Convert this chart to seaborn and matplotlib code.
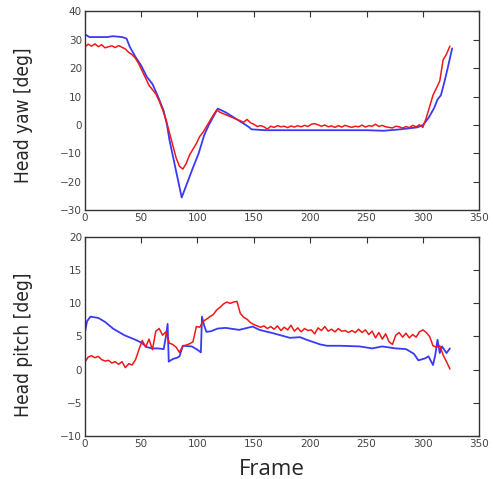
import numpy as np
import pandas as pd
import matplotlib
matplotlib.use("Agg")
import matplotlib.pyplot as plt
from matplotlib import font_manager as fm
import seaborn as sns

sns.set_style("white")
plt.rcParams["font.family"] = ["DejaVu Sans"]

# Head yaw - blue (keypoints)
yaw_blue_frames = [0, 2, 4, 20, 25, 33, 37, 40, 45, 50, 55, 60, 65, 70, 73, 75, 86, 96, 101, 106,
                   110, 118, 125, 135, 145, 148, 160, 200, 250, 265, 280, 295, 300, 305, 310, 313,
                   316, 319, 322, 326]
yaw_blue = [32, 31.5, 31, 31, 31.3, 31, 30.5, 27.5, 24, 21, 17, 14.5, 10, 5, 0, -5, -25.5, -15, -10, -3.5,
            0, 5.8, 4.5, 2, -0.5, -1.5, -1.8, -1.8, -1.8, -2.0, -1.5, -0.8, 0, 2.5, 6, 9,
            10.5, 15, 20, 27]

# Head yaw - red (every 3 frames)
yaw_red_frames = list(range(0, 325, 3))
yaw_red = [27.5, 28.5, 27.8, 28.6, 27.6, 28.3, 27.2, 27.6, 27.9, 27.3, 28.0, 27.4, 26.8, 25.6, 24.8,
           23.5, 21.5, 19.0, 16.5, 14.0, 12.5, 11.0, 8.5, 5.5, 2.0, -2.5, -7.0, -11.5, -14.5, -15.5,
           -13.5, -10.5, -8.5, -6.5, -4.0, -2.5, -0.5, 1.5, 3.5, 5.3, 4.5, 4.0, 3.5, 3.0, 2.5,
           2.0, 1.5, 1.0, 2.0, 0.8, 0.3, -0.5, -0.2, -0.6, -1.4, -0.4, -0.8, -0.2, -0.6, -0.4,
           -0.9, -0.3, -0.7, -0.2, -0.6, -0.1, -0.5, 0.3, 0.5, 0.1, -0.4, 0.0, -0.6, -0.3, -0.8,
           -0.2, -0.7, -0.1, -0.5, -0.8, -0.4, -0.6, 0.0, -0.7, -0.2, -0.4, 0.3, -0.5, -0.1, -0.6,
           -0.8, -1.0, -0.4, -0.6, -1.1, -0.5, -0.9, -0.1, -0.6, 0.1, -0.8, 2.5, 6.5, 10.5, 13.0,
           15.5, 23.0, 25.0, 27.8]

# Head pitch - blue (keypoints)
pitch_blue_frames = [0, 2, 5, 12, 18, 25, 35, 45, 50, 55, 60, 65, 70, 72, 73.5, 74.5, 78, 82, 84, 87,
                     95, 100, 103, 104, 106, 108, 112, 118, 125, 137, 149, 155, 167, 182, 191, 197,
                     209, 215, 227, 244, 255, 264, 276, 285, 292, 296, 302, 305, 309, 311, 313, 315,
                     317, 319, 321, 324]
pitch_blue = [5.5, 7.3, 8.0, 7.8, 7.2, 6.2, 5.2, 4.5, 4.1, 3.4, 3.2, 3.2, 3.1, 5.0, 6.9, 1.2, 1.6, 1.8,
              2.0, 3.6, 3.5, 3.0, 2.6, 8.0, 6.6, 5.7, 5.8, 6.2, 6.3, 6.0, 6.5, 6.0, 5.5, 4.8, 4.9,
              4.5, 3.8, 3.6, 3.6, 3.5, 3.2, 3.5, 3.2, 3.1, 2.4, 1.4, 1.7, 2.0, 0.7, 2.2, 4.5, 2.5,
              3.5, 3.0, 2.5, 3.2]

# Head pitch - red (every 3 frames)
pitch_red_frames = list(range(0, 325, 3))
pitch_red = [1.1, 1.9, 2.1, 1.8, 2.0, 1.5, 1.3, 1.4, 1.0, 1.2, 0.8, 1.2, 0.3, 0.9, 0.7, 1.5, 3.0, 4.4,
             3.4, 4.6, 3.0, 5.8, 6.2, 5.2, 5.7, 4.0, 3.8, 3.4, 2.6, 3.6, 3.7, 3.9, 4.2, 6.5, 6.4,
             7.3, 7.6, 8.0, 8.3, 9.0, 9.4, 9.9, 10.2, 10.0, 10.2, 10.3, 8.5, 7.9, 7.6, 7.1, 6.8,
             6.6, 6.4, 6.6, 6.2, 6.5, 6.1, 6.6, 5.9, 6.4, 6.0, 6.7, 5.8, 6.3, 5.7, 6.2, 5.9, 6.0,
             5.4, 6.3, 5.9, 6.5, 5.8, 6.1, 5.7, 6.2, 5.8, 5.9, 5.6, 5.9, 5.6, 6.1, 5.6, 6.0, 5.3,
             5.8, 4.8, 5.6, 4.6, 5.4, 4.2, 3.8, 5.2, 5.6, 4.9, 5.5, 4.8, 5.3, 4.9, 5.7, 6.0, 5.6,
             5.0, 3.6, 3.4, 3.6, 2.2, 1.2, 0.1]

blue = "#3a3af5"
red = "#f01818"

# pick a narrow sans font for the y labels if one is installed
label_font = None
for f in fm.fontManager.ttflist:
    if ("Narrow" in f.fname or "Condensed" in f.fname) and "Bold" not in f.fname \
            and "Oblique" not in f.fname and "Italic" not in f.fname:
        label_font = fm.FontProperties(fname=f.fname)
        break
if label_font is None:
    label_font = fm.FontProperties(family="Roboto")

fig = plt.figure(figsize=(4.93, 4.79), dpi=100)
ax1 = fig.add_axes([0.172, 0.561, 0.800, 0.415])
ax2 = fig.add_axes([0.172, 0.090, 0.800, 0.415])

sns.lineplot(x=yaw_blue_frames, y=yaw_blue, ax=ax1, color=blue, lw=1.3, legend=False)
sns.lineplot(x=yaw_red_frames, y=yaw_red, ax=ax1, color=red, lw=1.1, legend=False)
sns.lineplot(x=pitch_blue_frames, y=pitch_blue, ax=ax2, color=blue, lw=1.3, legend=False)
sns.lineplot(x=pitch_red_frames, y=pitch_red, ax=ax2, color=red, lw=1.1, legend=False)

ax1.set_ylim(-30, 40)
ax2.set_ylim(-10, 20)
for ax in (ax1, ax2):
    ax.set_xlim(0, 350)
    ax.set_xticks(range(0, 351, 50))
    ax.tick_params(direction="in", length=4, width=0.8, top=True, right=True,
                   labelsize=7.5, labelcolor="#444444", color="#333333", pad=2)
    for s in ax.spines.values():
        s.set_color("#333333")
        s.set_linewidth(1.0)

ax1.set_ylabel("Head yaw [deg]", fontproperties=label_font, va="center")
ax1.yaxis.set_label_coords(-0.155, 0.48)
ax2.set_ylabel("Head pitch [deg]", fontproperties=label_font, va="center")
ax2.yaxis.set_label_coords(-0.155, 0.46)
ax2.set_xlabel("Frame", family="Open Sans", fontsize=16, va="center")
ax2.xaxis.set_label_coords(0.475, -0.17)

# size the y labels to the length they have in the reference
renderer = fig.canvas.get_renderer()
for lab, target in ((ax1.yaxis.label, 136), (ax2.yaxis.label, 145)):
    lab.set_fontsize(12)
    h = lab.get_window_extent(renderer).height
    lab.set_fontsize(min(12 * target / h, 20))

fig.savefig("out.png", dpi=100)
